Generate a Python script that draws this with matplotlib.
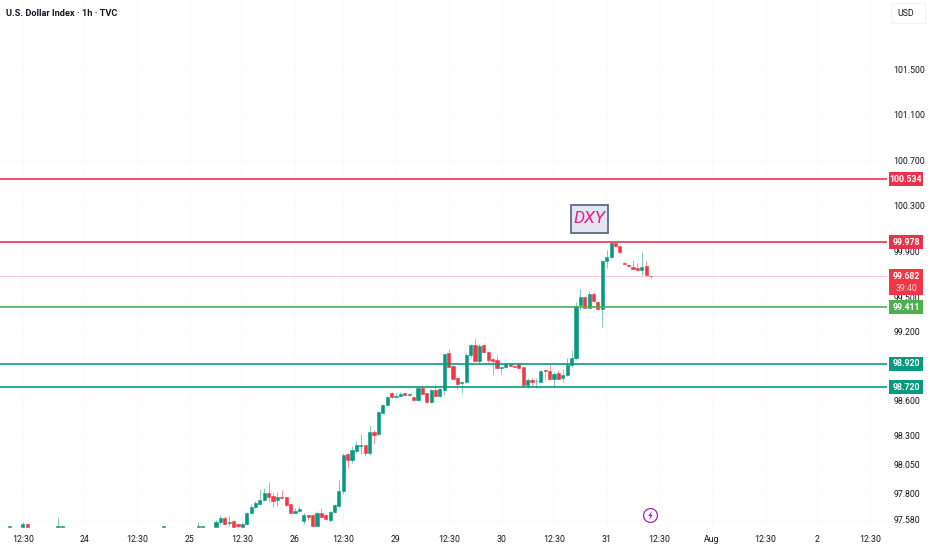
import matplotlib
matplotlib.use('Agg')
import numpy as np
import matplotlib.pyplot as plt
from matplotlib.patches import Rectangle
from matplotlib.path import Path
from matplotlib.ticker import NullLocator
from matplotlib.transforms import IdentityTransform

plt.rcParams['font.family'] = ['Roboto', 'DejaVu Sans']

# A few isolated prints before the main run (bar index, O, H, L, C)
early_idx = [-47, -44, -43, -36, -35, -12, -4, -3]
early_o = [97.520, 97.517, 97.543, 97.517, 97.520, 97.520, 97.520, 97.520]
early_h = [97.525, 97.560, 97.545, 97.600, 97.525, 97.525, 97.560, 97.525]
early_l = [97.515, 97.517, 97.517, 97.517, 97.515, 97.515, 97.515, 97.515]
early_c = [97.522, 97.543, 97.517, 97.525, 97.522, 97.522, 97.522, 97.522]

# hourly candles
opens = [97.517, 97.558, 97.598, 97.552, 97.569, 97.546, 97.517, 97.540, 97.639, 97.691,
         97.715, 97.747, 97.805, 97.784, 97.749, 97.776, 97.770, 97.712, 97.639, 97.654,
         97.566, 97.616, 97.619, 97.526, 97.633, 97.619, 97.575, 97.642, 97.700, 97.825,
         98.141, 98.088, 98.170, 98.212, 98.218, 98.155, 98.332, 98.311, 98.500, 98.567,
         98.665, 98.633, 98.644, 98.665, 98.647,
         98.638, 98.606, 98.708, 98.667, 98.589, 98.694, 98.641, 98.694, 99.013, 98.903,
         98.798, 98.752, 98.763, 98.993, 99.083, 98.946, 99.083, 99.022, 98.964, 98.958,
         98.885, 98.894, 98.917, 98.906, 98.917, 98.894, 98.737, 98.778, 98.769, 98.766,
         98.865, 98.859, 98.789, 98.839, 98.798, 98.821, 98.909, 98.975,
         99.435, 99.502, 99.409, 99.525, 99.459, 99.395, 99.816, 99.848, 99.973, 99.944,
         99.799, 99.784, 99.761, 99.755, 99.738, 99.770, 99.688]
highs = [97.581, 97.624, 97.610, 97.613, 97.575, 97.546, 97.560, 97.648, 97.715, 97.744,
         97.840, 97.848, 97.901, 97.810, 97.813, 97.831, 97.776, 97.715, 97.677, 97.697,
         97.633, 97.619, 97.627, 97.656, 97.680, 97.627, 97.654, 97.715, 97.921, 98.155,
         98.155, 98.215, 98.253, 98.311, 98.218, 98.393, 98.349, 98.506, 98.576, 98.641,
         98.676, 98.665, 98.679, 98.671, 98.668,
         98.641, 98.714, 98.734, 98.670, 98.699, 98.743, 98.708, 99.010, 99.048, 98.909,
         98.804, 98.772, 99.013, 99.089, 99.141, 99.095, 99.089, 99.028, 98.970, 98.993,
         98.897, 98.926, 98.923, 98.909, 98.926, 98.897, 98.795, 98.795, 98.795, 98.865,
         98.874, 98.920, 98.853, 98.868, 98.874, 98.970, 99.042, 99.461,
         99.575, 99.508, 99.552, 99.543, 99.464, 99.822, 99.915, 99.979, 99.979, 99.950,
         99.802, 99.787, 99.822, 99.799, 99.892, 99.813, 99.697]
lows = [97.517, 97.546, 97.537, 97.526, 97.517, 97.517, 97.517, 97.531, 97.633, 97.680,
        97.706, 97.738, 97.735, 97.691, 97.697, 97.755, 97.697, 97.633, 97.633, 97.648,
        97.546, 97.581, 97.523, 97.517, 97.598, 97.581, 97.563, 97.633, 97.691, 97.796,
        98.019, 98.062, 98.149, 98.144, 98.126, 98.132, 98.227, 98.305, 98.494, 98.558,
        98.624, 98.630, 98.641, 98.641, 98.644,
        98.603, 98.603, 98.653, 98.586, 98.586, 98.635, 98.635, 98.650, 98.883, 98.787,
        98.699, 98.664, 98.757, 98.984, 98.941, 98.926, 99.013, 98.935, 98.824, 98.874,
        98.833, 98.888, 98.903, 98.894, 98.880, 98.723, 98.708, 98.728, 98.708, 98.763,
        98.787, 98.784, 98.723, 98.787, 98.766, 98.816, 98.897, 98.955,
        99.392, 99.403, 99.406, 99.461, 99.392, 99.238, 99.755, 99.842, 99.941, 99.889,
        99.790, 99.767, 99.740, 99.735, 99.697, 99.688, 99.668]
closes = [97.563, 97.595, 97.546, 97.563, 97.517, 97.523, 97.540, 97.639, 97.691, 97.720,
          97.749, 97.810, 97.776, 97.744, 97.776, 97.767, 97.706, 97.636, 97.654, 97.671,
          97.622, 97.607, 97.529, 97.636, 97.604, 97.584, 97.645, 97.703, 97.825, 98.138,
          98.088, 98.173, 98.218, 98.218, 98.149, 98.332, 98.308, 98.506, 98.567, 98.630,
          98.630, 98.644, 98.662, 98.647, 98.662,
          98.606, 98.708, 98.659, 98.589, 98.694, 98.641, 98.699, 99.007, 98.897, 98.792,
          98.749, 98.763, 98.993, 99.083, 98.946, 99.077, 99.019, 98.958, 98.949, 98.882,
          98.894, 98.917, 98.906, 98.897, 98.882, 98.734, 98.781, 98.763, 98.775, 98.859,
          98.859, 98.789, 98.836, 98.789, 98.821, 98.912, 98.973, 99.427,
          99.505, 99.406, 99.525, 99.464, 99.395, 99.816, 99.848, 99.970, 99.944, 99.892,
          99.793, 99.770, 99.743, 99.738, 99.761, 99.691, 99.680]

# axis
price_ticks = [101.5, 101.1, 100.7, 100.3, 99.9, 99.5, 99.2, 98.6, 98.3, 98.05, 97.8, 97.58]
time_ticks = [-44, -30, -18, -6, 6, 18, 29, 41, 53, 65, 77, 89, 101, 113, 125, 137, 149]
time_labels = ['12:30', '24', '12:30', '25', '12:30', '26', '12:30', '29', '12:30', '30',
               '12:30', '31', '12:30', 'Aug', '12:30', '2', '12:30']

# horizontal levels
level_prices = [100.534, 99.978, 99.411, 98.920, 98.720]
level_colors = ['#e9334a', '#e9334a', '#4caf50', '#089981', '#089981']
last_price = 99.682
countdown = '39:40'

up = '#089981'
down = '#f23645'
text_col = '#131722'

fig = plt.figure(figsize=(9.32, 5.5), dpi=100)
ax = fig.add_axes([0, 20 / 550, 887 / 932, 530 / 550])
ax.set_yscale('log')
ax.set_xlim(-49.2, 152.85)
ax.set_ylim(97.492, 102.122)
for s in ax.spines.values():
    s.set_visible(False)

ax.yaxis.set_minor_locator(NullLocator())
ax.yaxis.tick_right()
ax.set_yticks(price_ticks)
ax.set_yticklabels(['%.3f' % p for p in price_ticks])
ax.set_xticks(time_ticks)
ax.set_xticklabels(time_labels)
ax.tick_params(axis='y', length=0, pad=4.8, labelsize=6.3, labelcolor=text_col)
ax.tick_params(axis='x', length=0, pad=3.8, labelsize=6.3, labelcolor=text_col)
ax.grid(True, color='#fafafa', lw=0.7)
ax.set_axisbelow(True)

# candles
idx = np.array(early_idx + list(range(len(opens))))
o = np.array(early_o + opens)
h = np.array(early_h + highs)
l = np.array(early_l + lows)
c = np.array(early_c + closes)
cols = [up if b >= a else down for a, b in zip(o, c)]
ax.vlines(idx, l, h, colors=cols, lw=0.6, alpha=0.6, zorder=3)
ax.bar(idx, np.abs(c - o), bottom=np.minimum(o, c), width=0.72, color=cols,
       edgecolor=cols, linewidth=0.4, zorder=4)

# levels
ax.axhline(last_price, color='#f9c5ca', lw=0.7, zorder=2)
for p, col in zip(level_prices, level_colors):
    ax.axhline(p, color=col, lw=1.2, zorder=5)

# event icon
bolt = Path([(0.3, 1), (-0.5, -0.1), (-0.05, -0.1), (-0.3, -1), (0.5, 0.15), (0.05, 0.15), (0.3, 1)])
ax.plot([98.9], [97.62], marker='o', ms=10, mfc='white', mec='#9c27b0', mew=0.9, zorder=6)
ax.plot([98.9], [97.62], marker=bolt, ms=6.5, mfc='#9c27b0', mec='none', zorder=7)

# the rest sits on the canvas in pixels
fig.canvas.draw()
px = IdentityTransform()

# DXY label
cx, cy = ax.transData.transform((85.1, 100.183))
fig.add_artist(Rectangle((cx - 18.5, cy - 14), 37, 28, fc='#e3e6f2', ec='#5d6b8a', lw=1.3, transform=px, zorder=3))
fig.text(cx, cy, 'DXY', fontsize=12.5, style='italic', color='#e91e8c', ha='center', va='center',
         transform=px, zorder=4)


def tag(price, col, txt):
    y = ax.transData.transform((0, price))[1]
    fig.add_artist(Rectangle((889, y - 7), 34, 14, fc=col, ec='none', transform=px, zorder=3))
    fig.text(906, y, txt, color='white', fontsize=6.3, fontweight='bold', ha='center', va='center',
             transform=px, zorder=4)


for p, col in zip(level_prices, level_colors):
    tag(p, col, '%.3f' % p)

y = ax.transData.transform((0, last_price))[1]
fig.add_artist(Rectangle((889, y - 19), 34, 26, fc=down, ec='none', transform=px, zorder=3))
fig.text(906, y, '%.3f' % last_price, color='white', fontsize=6.3, fontweight='bold', ha='center', va='center',
         transform=px, zorder=4)
fig.text(906, y - 12, countdown, color='#ffd5d9', fontsize=6.3, ha='center', va='center', transform=px, zorder=4)

# header
fig.text(6, 550 - 13, 'U.S. Dollar Index · 1h · TVC', fontsize=6.7, fontweight='bold', color=text_col,
         va='center', transform=px)
fig.add_artist(Rectangle((891, 550 - 23), 34, 20, fc='white', ec='#f0f3fa', lw=0.8, transform=px, zorder=3))
fig.text(906, 550 - 13, 'USD', fontsize=6.3, color=text_col, ha='center', va='center', transform=px, zorder=4)

fig.savefig('out.png', dpi=100)
